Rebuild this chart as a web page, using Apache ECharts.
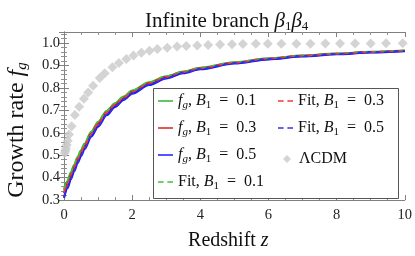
<!DOCTYPE html>
<html>
<head>
<meta charset="utf-8">
<script src="https://cdn.jsdelivr.net/npm/echarts@6/dist/echarts.min.js"></script>
<style>html,body{margin:0;padding:0;background:#fff}#c{width:415px;height:256px}</style>
</head>
<body>
<div id="c"></div>
<script>
// ---- data ----
const zCurve = [0,0.1,0.2,0.3,0.4,0.5,0.6,0.8,1.0,1.25,1.5,1.75,2.0,2.5,3.0,3.5,4.0,5.0,6.0,7.0,8.0,9.0,10];
const fgB01  = [0.345,0.383,0.422,0.457,0.491,0.521,0.550,0.604,0.648,0.697,0.731,0.761,0.788,0.825,0.852,0.873,0.890,0.914,0.932,0.944,0.953,0.961,0.967];
const fgB03  = [0.330,0.370,0.410,0.445,0.480,0.510,0.540,0.595,0.640,0.690,0.725,0.755,0.782,0.820,0.848,0.870,0.887,0.912,0.930,0.943,0.952,0.960,0.966];
const fgB05  = [0.310,0.352,0.393,0.430,0.466,0.497,0.527,0.583,0.628,0.679,0.716,0.747,0.775,0.814,0.843,0.866,0.884,0.910,0.928,0.941,0.951,0.959,0.965];
const fitB01 = [0.347,0.385,0.423,0.458,0.492,0.522,0.551,0.605,0.649,0.698,0.732,0.762,0.789,0.826,0.853,0.874,0.891,0.915,0.933,0.945,0.954,0.962,0.968];
const fitB03 = [0.332,0.372,0.411,0.446,0.481,0.511,0.541,0.596,0.641,0.691,0.726,0.756,0.783,0.821,0.849,0.871,0.888,0.913,0.931,0.944,0.953,0.961,0.967];
const fitB05 = [0.311,0.353,0.394,0.431,0.467,0.498,0.528,0.584,0.629,0.680,0.717,0.748,0.776,0.815,0.844,0.867,0.885,0.911,0.929,0.942,0.952,0.960,0.966];
const zLCDM  = [0.02,0.04,0.06,0.08,0.11,0.146,0.224,0.32,0.446,0.583,0.708,0.854,1.05,1.195,1.42,1.61,1.83,2.04,2.27,2.51,2.74,3.03,3.32,3.59,3.91,4.23,4.58,4.93,5.25,5.63,5.98,6.38,6.82,7.23,7.67,8.1,8.54,9.0,9.45,9.94];
const fLCDM  = [0.510,0.520,0.530,0.545,0.565,0.592,0.629,0.680,0.716,0.752,0.780,0.810,0.845,0.866,0.893,0.912,0.930,0.945,0.957,0.966,0.974,0.980,0.985,0.988,0.990,0.992,0.994,0.995,0.996,0.997,0.997,0.998,0.998,0.998,0.999,0.999,0.999,0.999,1.000,1.000];
const xTicks = {min:0, max:10, interval:2};
const yTicks = {min:0.3, max:1.05, interval:0.1};

const names = {
  g1:'fg, B1 = 0.1', g3:'fg, B1 = 0.3', g5:'fg, B1 = 0.5',
  f1:'Fit, B1 = 0.1', f3:'Fit, B1 = 0.3', f5:'Fit, B1 = 0.5', L:'ΛCDM'
};
const pairs = (xs, ys) => xs.map((x,i)=>[x, ys[i]]);

const FONT = 'Liberation Serif';
const richLeg = {
  n:{fontFamily:FONT, fontSize:16, lineHeight:20, color:'#111'},
  i:{fontFamily:FONT, fontSize:16, lineHeight:20, fontStyle:'italic', color:'#111'},
  s:{fontFamily:FONT, fontSize:11, lineHeight:11, verticalAlign:'bottom', color:'#111'},
  si:{fontFamily:FONT, fontSize:11, lineHeight:11, verticalAlign:'bottom', fontStyle:'italic', color:'#111'}
};
function legFmt(name){
  const m = name.match(/^(fg|Fit), B1 = (.*)$/);
  if(!m) return '{n|' + name + '}';
  const head = m[1]==='fg' ? '{i|f}{si|g}{n|, }' : '{n|Fit, }';
  return head + '{i|B}{s|1}{n|  =  ' + m[2] + '}';
}
const ICON_SOLID = 'path://M0,0h16v1.6h-16z';
const ICON_DASH  = 'path://M0,0h6v1.6h-6z M10,0h6v1.6h-6z';

const solid = (name, data, color) => ({
  name, type:'line', data, showSymbol:false, symbol:'none', smooth:0.3, smoothMonotone:'x',
  lineStyle:{color, width:2.3}, itemStyle:{color}, z:3
});
const dashed = (name, data, color) => ({
  name, type:'line', data, showSymbol:false, symbol:'none', smooth:0.3, smoothMonotone:'x',
  lineStyle:{color, width:1.6, type:[5,4]}, itemStyle:{color}, z:4
});

const axisCommon = {
  axisLine:{show:true, lineStyle:{color:'#808080', width:1}},
  axisTick:{show:true, inside:true, length:5, lineStyle:{color:'#808080'}},
  splitLine:{show:false}
};
const minorX = {minorTick:{show:true, splitNumber:4, length:3, lineStyle:{color:'#909090'}}};
const minorY = {minorTick:{show:true, splitNumber:5, length:3, lineStyle:{color:'#909090'}}};

const chart = echarts.init(document.getElementById('c'), null, {renderer:'canvas'});
chart.setOption({
  animation:false,
  backgroundColor:'#fff',
  title:{
    text:'{n|Infinite branch }{i|β}{s|1}{i|β}{s|4}',
    left:140, top:4,
    textStyle:{fontWeight:'normal', rich:{
      n:{fontFamily:FONT, fontSize:21, lineHeight:24, fontWeight:'normal', color:'#111'},
      i:{fontFamily:FONT, fontSize:21, lineHeight:24, fontStyle:'italic', fontWeight:'normal', color:'#111'},
      s:{fontFamily:FONT, fontSize:13, lineHeight:13, verticalAlign:'bottom', fontWeight:'normal', color:'#111'}
    }}
  },
  grid:{left:64, right:8, top:32, bottom:56, containLabel:false},
  xAxis:[
    Object.assign({type:'value', position:'bottom', min:xTicks.min, max:xTicks.max, interval:xTicks.interval,
      name:'{n|Redshift }{i|z}', nameLocation:'middle', nameGap:31,
      nameTextStyle:{fontFamily:FONT, fontSize:20, color:'#111', padding:[0,12,0,0],
        rich:{n:{fontFamily:FONT, fontSize:20, color:'#111'},
              i:{fontFamily:FONT, fontSize:20, fontStyle:'italic', color:'#111'}}},
      axisLabel:{fontFamily:FONT, fontSize:14.5, color:'#222', margin:8}
    }, axisCommon, minorX),
    Object.assign({type:'value', position:'top', min:xTicks.min, max:xTicks.max, interval:xTicks.interval,
      axisLabel:{show:false}
    }, axisCommon, minorX)
  ],
  yAxis:[
    Object.assign({type:'value', position:'left', min:yTicks.min, max:yTicks.max, interval:yTicks.interval,
      axisLabel:{fontFamily:FONT, fontSize:14.5, color:'#222', margin:4, showMaxLabel:false,
        formatter:v=>v.toFixed(1)}
    }, axisCommon, minorY),
    Object.assign({type:'value', position:'right', min:yTicks.min, max:yTicks.max, interval:yTicks.interval,
      axisLabel:{show:false}
    }, axisCommon, minorY)
  ],
  graphic:[
    {type:'rect', z:10, shape:{x:153.5, y:88.5, width:245, height:110},
     style:{fill:'#fff', stroke:'#555', lineWidth:1}},
    {type:'text', z:10, x:17, y:130, rotation:Math.PI/2,
     style:{text:'{n|Growth rate }{i|f}{s|g}', align:'center', verticalAlign:'middle',
       rich:{
         n:{fontFamily:FONT, fontSize:24, lineHeight:26, fill:'#111'},
         i:{fontFamily:FONT, fontSize:24, lineHeight:26, fontStyle:'italic', fill:'#111'},
         s:{fontFamily:FONT, fontSize:15, lineHeight:15, verticalAlign:'bottom', fontStyle:'italic', fill:'#111'}
       }}}
  ],
  legend:[
    {data:[{name:names.g1,icon:ICON_SOLID},{name:names.g3,icon:ICON_SOLID},{name:names.g5,icon:ICON_SOLID},{name:names.f1,icon:ICON_DASH}],
     orient:'vertical', left:158, top:93, padding:0,
     itemWidth:15, itemHeight:14, itemGap:9, z:20, selectedMode:false,
     formatter:legFmt, textStyle:{rich:richLeg}},
    {data:[{name:names.f3,icon:ICON_DASH},{name:names.f5,icon:ICON_DASH}],
     orient:'vertical', left:278, top:93, padding:0,
     itemWidth:15, itemHeight:14, itemGap:9, z:20, selectedMode:false,
     formatter:legFmt, textStyle:{rich:richLeg}},
    {data:[{name:names.L, icon:'diamond'}], orient:'vertical', left:283, top:151, padding:0,
     itemWidth:8, itemHeight:8, z:20, selectedMode:false,
     formatter:legFmt, textStyle:{rich:richLeg, padding:[0,0,0,3]}}
  ],
  series:[
    {name:names.L, type:'scatter', data:pairs(zLCDM,fLCDM), symbol:'diamond', symbolSize:[10,10],
     itemStyle:{color:'#c9c9c9'}, z:2},
    solid(names.g1, pairs(zCurve,fgB01), '#2fb52f'),
    solid(names.g3, pairs(zCurve,fgB03), '#e61a1a'),
    solid(names.g5, pairs(zCurve,fgB05), '#1a1aff'),
    dashed(names.f1, pairs(zCurve,fitB01), '#3cc23c'),
    dashed(names.f3, pairs(zCurve,fitB03), '#f03a3a'),
    dashed(names.f5, pairs(zCurve,fitB05), '#3333e0')
  ]
});
</script>
</body>
</html>
